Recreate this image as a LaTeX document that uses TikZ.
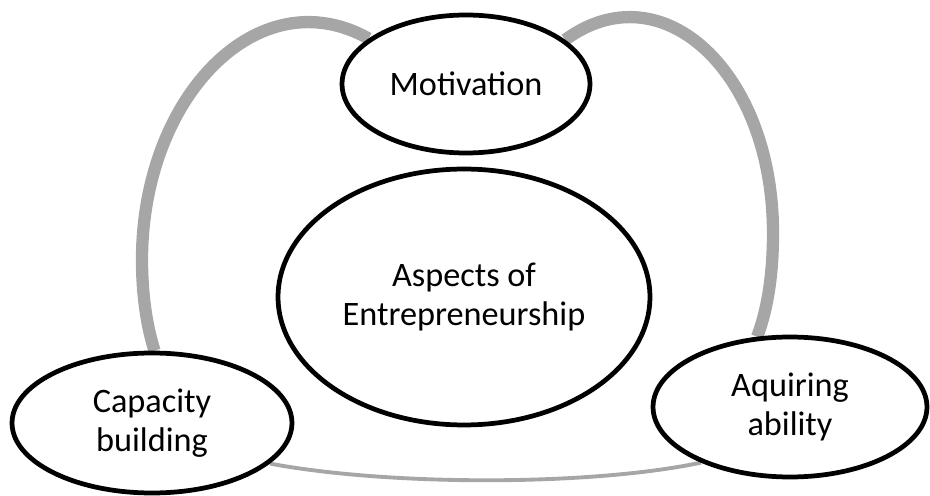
\documentclass[tikz,border=0pt]{standalone}
\usepackage{fontspec}
\setmainfont{Carlito}
\usetikzlibrary{shapes.geometric, backgrounds}
\definecolor{loopgray}{HTML}{A6A6A6}
\tikzset{
  bubble/.style={ellipse, draw, line width=2.7pt, fill=white, inner sep=0pt,
    align=center, font=\fontsize{19.5}{22}\selectfont},
  bigloop/.style={draw=loopgray, line width=7pt},
  baseloop/.style={draw=loopgray, line width=2.2pt}
}

\begin{document}
\begin{tikzpicture}[x=0.02cm, y=-0.02cm]
\useasboundingbox (0,0) rectangle (930,496);
\node[bubble, minimum width=4.96cm, minimum height=2.76cm] (mot) at (466,84) {Motivation};
\node[bubble, minimum width=7.44cm, minimum height=5.12cm] (asp) at (464,297) {Aspects of\\Entrepreneurship};
\node[bubble, minimum width=5.6cm, minimum height=2.8cm] (cap) at (152,423) {Capacity\\building};
\node[bubble, minimum width=5.48cm, minimum height=2.8cm] (aqu) at (790,407) {Aquiring\\ability};
\coordinate (lbend) at (142,260);
\coordinate (rbend) at (773,233);
\begin{scope}[on background layer]
\draw[bigloop] (mot.155) .. controls (259,-23) and (142,96) .. (lbend)
  .. controls (142,292) and (146,324) .. (cap.88);
\draw[bigloop] (mot.24) .. controls (662,-31) and (773,72) .. (rbend)
  .. controls (773,269) and (769,305) .. (aqu.115);
\draw[baseloop] (cap.-19) .. controls (390,486) and (590,486) .. (aqu.212);
\end{scope}
\end{tikzpicture}
\end{document}
